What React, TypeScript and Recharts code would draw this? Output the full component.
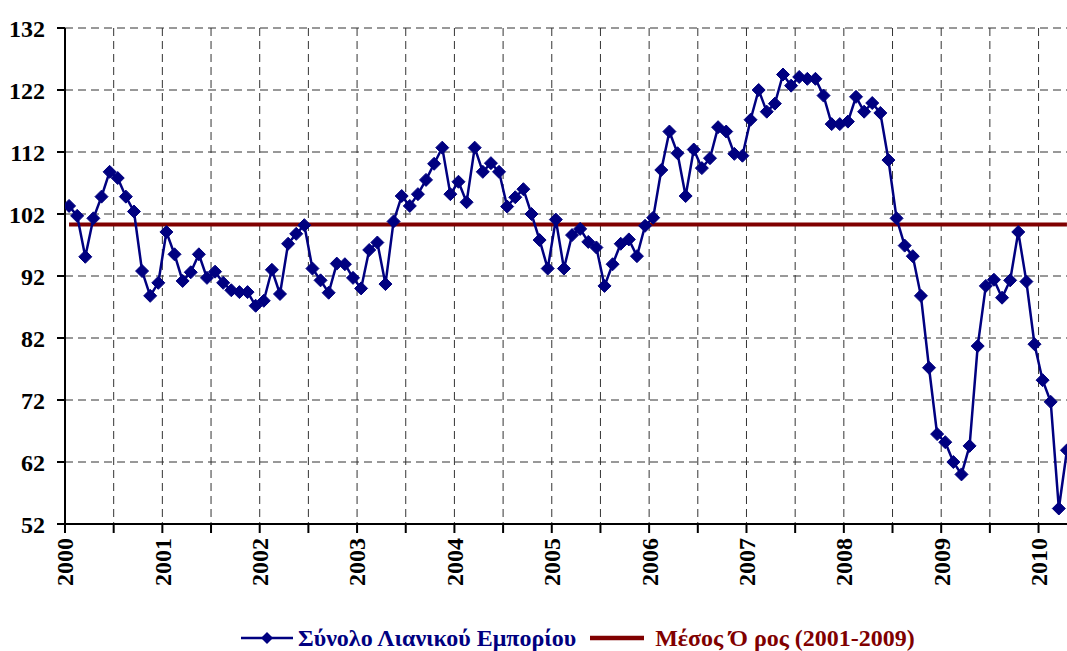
import React from "react";
import { CartesianGrid, Legend, Line, LineChart, XAxis, YAxis } from "recharts";

// Monthly index, Jan 2000 .. Apr 2010
const YEAR_LABELS = ["2000", "2001", "2002", "2003", "2004", "2005", "2006", "2007", "2008", "2009", "2010"];
const RETAIL = [
  103.3, 101.7, 95.1, 101.3, 104.8, 108.8, 107.8, 104.8, 102.4, 92.8, 88.8, 90.9,
  99.1, 95.5, 91.2, 92.6, 95.5, 91.7, 92.7, 90.9, 89.7, 89.4, 89.4, 87.2,
  88.0, 93.0, 89.1, 97.2, 98.8, 100.2, 93.2, 91.3, 89.3, 94.0, 93.9, 91.7,
  90.0, 96.2, 97.4, 90.7, 100.8, 104.9, 103.3, 105.2, 107.5, 110.1, 112.7, 105.2,
  107.2, 103.9, 112.7, 108.8, 110.2, 108.8, 103.2, 104.7, 106.0, 102.0, 97.8, 93.2,
  101.1, 93.2, 98.6, 99.6, 97.5, 96.6, 90.4, 93.9, 97.2, 97.9, 95.2, 100.1,
  101.4, 109.1, 115.3, 111.8, 104.9, 112.4, 109.4, 111.0, 116.0, 115.3, 111.7, 111.4,
  117.2, 122.0, 118.5, 119.8, 124.5, 122.7, 124.1, 123.8, 123.8, 121.1, 116.5, 116.5,
  116.9, 120.9, 118.5, 119.9, 118.3, 110.7, 101.3, 96.9, 95.2, 88.8, 77.2, 66.5,
  65.2, 62.0, 60.0, 64.6, 80.7, 90.4, 91.4, 88.5, 91.3, 99.1, 91.1, 81.0,
  75.2, 71.7, 54.5, 63.9,
];
const AVERAGE_2001_2009 = 100.3;
const Y_TICKS = [52, 62, 72, 82, 92, 102, 112, 122, 132];

const NAVY = "#000080";
const MAROON = "#800000";
const FONT = '"Liberation Serif", "Times New Roman", "DejaVu Serif", serif';

const data = RETAIL.map((v, i) => ({ m: i, retail: v, avg: AVERAGE_2001_2009 }));
// month slots are centred on integers; year / half-year boundaries sit at -0.5, 5.5, 11.5 ...
const HALF_YEAR_TICKS = YEAR_LABELS.flatMap((_, k) => [k * 12 - 0.5, k * 12 + 5.5]).filter(
  (t) => t <= RETAIL.length - 0.5
);

function YearTick({ x, y, payload }: any) {
  const k = (payload.value + 0.5) / 12;
  const label = Number.isInteger(k) ? YEAR_LABELS[k] : "";
  return (
    <text
      transform={`translate(${x},${y}) rotate(-90)`}
      textAnchor="end"
      dy="0.35em"
      fontFamily={FONT}
      fontWeight="bold"
      fontSize={24}
      fill="#000"
    >
      {label}
    </text>
  );
}

function Diamond({ cx, cy, index }: any) {
  const r = 6.5;
  return (
    <polygon
      key={`d-${index}`}
      points={`${cx},${cy - r} ${cx + r},${cy} ${cx},${cy + r} ${cx - r},${cy}`}
      fill={NAVY}
      stroke={NAVY}
      strokeWidth={1}
    />
  );
}

function LegendBox() {
  return (
    <div
      style={{
        display: "flex",
        alignItems: "center",
        fontFamily: FONT,
        fontWeight: "bold",
        fontSize: 24,
        whiteSpace: "nowrap",
        height: 30,
      }}
    >
      <svg width={52} height={16}>
        <line x1={0} y1={8} x2={52} y2={8} stroke={NAVY} strokeWidth={2.5} />
        <polygon points="26,2 32,8 26,14 20,8" fill={NAVY} />
      </svg>
      <span style={{ color: NAVY, marginLeft: 5 }}>Σύνολο Λιανικού Εμπορίου</span>
      <svg width={54} height={16} style={{ marginLeft: 14 }}>
        <line x1={0} y1={8} x2={54} y2={8} stroke={MAROON} strokeWidth={4.5} />
      </svg>
      <span style={{ color: MAROON, marginLeft: 11 }}>Μέσος Ό ρος (2001-2009)</span>
    </div>
  );
}

export default function App() {
  return (
    <div
      style={{
        position: "absolute",
        left: 0,
        top: 0,
        width: 1067,
        height: 651,
        overflow: "hidden",
        background: "#fff",
      }}
    >
      <LineChart width={1075} height={651} data={data} margin={{ top: 28, right: 4, left: 0, bottom: 0 }}>
        <CartesianGrid stroke="#333" strokeDasharray="8 5" strokeWidth={1} />
        <XAxis
          dataKey="m"
          type="number"
          domain={[-0.5, RETAIL.length - 0.5]}
          ticks={HALF_YEAR_TICKS}
          interval={0}
          allowDataOverflow
          height={97}
          tickSize={9}
          tickMargin={5}
          tick={<YearTick />}
          axisLine={{ stroke: "#000", strokeWidth: 2 }}
          tickLine={{ stroke: "#000", strokeWidth: 2 }}
        />
        <YAxis
          domain={[52, 132]}
          ticks={Y_TICKS}
          interval={0}
          width={65}
          tickSize={8}
          tickMargin={12}
          tick={{ fill: "#000", fontSize: 24, fontWeight: "bold", fontFamily: FONT }}
          axisLine={{ stroke: "#000", strokeWidth: 2 }}
          tickLine={{ stroke: "#000", strokeWidth: 2 }}
        />
        <Legend
          verticalAlign="bottom"
          content={<LegendBox />}
          wrapperStyle={{ left: 241, width: 720, height: 30, bottom: -2 }}
        />
        <Line
          name="Μέσος Ό ρος (2001-2009)"
          dataKey="avg"
          type="linear"
          stroke={MAROON}
          strokeWidth={4}
          dot={false}
          activeDot={false}
          isAnimationActive={false}
        />
        <Line
          name="Σύνολο Λιανικού Εμπορίου"
          dataKey="retail"
          type="linear"
          stroke={NAVY}
          strokeWidth={2.5}
          dot={<Diamond />}
          activeDot={false}
          isAnimationActive={false}
        />
      </LineChart>
    </div>
  );
}
